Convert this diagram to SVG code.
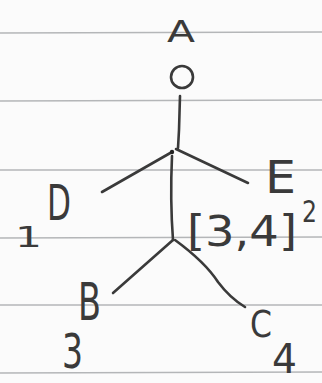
<svg xmlns="http://www.w3.org/2000/svg" width="322" height="383" viewBox="0 0 322 383">
<style>
.paper{stroke:#b4b6b8;stroke-width:1.5;fill:none}
.ink{stroke:#3a3a3a;stroke-width:2.6;fill:none;stroke-linecap:round;stroke-linejoin:round}
.t{font-family:"DejaVu Sans",sans-serif;fill:#3a3a3a;font-weight:normal}
</style>
<rect width="322" height="383" fill="#fbfbfb"/>
<g id="paper">
<line class="paper" x1="0" y1="33" x2="322" y2="32"/>
<line class="paper" x1="0" y1="101" x2="322" y2="100"/>
<line class="paper" x1="0" y1="170" x2="322" y2="170"/>
<line class="paper" x1="0" y1="238" x2="322" y2="237"/>
<line class="paper" x1="0" y1="305" x2="322" y2="305"/>
<line class="paper" x1="0" y1="373" x2="322" y2="372"/>
</g>
<g id="connectors">
<path class="ink" d="M180,96 L179,130 L178,148"/>
<path class="ink" d="M172,152 L102,192"/>
<path class="ink" d="M176,149 L248,183"/>
<path class="ink" d="M172,156 Q170,200 173,240"/>
<path class="ink" d="M173,240 L113,293"/>
<path class="ink" d="M175,240 Q205,262 218,282 Q230,298 245,307"/>
<circle cx="172" cy="152" r="2.2" fill="#222"/>
</g>
<g id="node-A">
<text class="t" x="167" y="42" font-size="30" textLength="28" lengthAdjust="spacingAndGlyphs">A</text>
<circle class="ink" cx="182" cy="77" r="11"/>
</g>
<g id="node-D">
<text class="t" x="47" y="220" font-size="50" textLength="24" lengthAdjust="spacingAndGlyphs">D</text>
<text class="t" x="15" y="247" font-size="28" textLength="27" lengthAdjust="spacingAndGlyphs">1</text>
</g>
<g id="node-E">
<text class="t" x="265" y="193" font-size="45" textLength="31" lengthAdjust="spacingAndGlyphs">E</text>
<text class="t" x="302" y="222" font-size="30" textLength="15" lengthAdjust="spacingAndGlyphs">2</text>
</g>
<g id="label-34">
<text class="t" x="187" y="246" font-size="42" textLength="110" lengthAdjust="spacingAndGlyphs">[3,4]</text>
</g>
<g id="node-B">
<text class="t" x="78" y="320" font-size="52" textLength="23" lengthAdjust="spacingAndGlyphs">B</text>
<text class="t" x="62" y="368" font-size="48" textLength="21" lengthAdjust="spacingAndGlyphs">3</text>
</g>
<g id="node-C">
<text class="t" x="250" y="337" font-size="37" textLength="22" lengthAdjust="spacingAndGlyphs">C</text>
<text class="t" x="272" y="373" font-size="40" textLength="25" lengthAdjust="spacingAndGlyphs">4</text>
</g>
</svg>
